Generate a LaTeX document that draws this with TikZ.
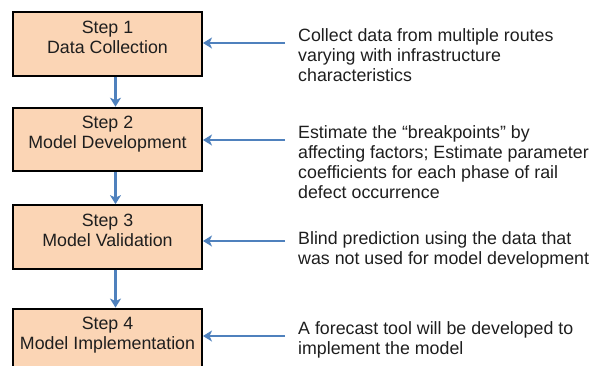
\documentclass[tikz,border=0pt]{standalone}
\usepackage{fontspec}
\setmainfont{Liberation Sans}
\usetikzlibrary{arrows.meta,positioning}
\usepackage{xcolor}
\definecolor{peach}{HTML}{FBD5B5}
\definecolor{steel}{HTML}{4F81BD}
\definecolor{ink}{HTML}{1E1E1E}
\tikzset{
  base/.style={font=\fontsize{17.8}{20}\selectfont,text=ink},
  stepbox/.style={base,align=center,draw=black,line width=2pt,fill=peach,minimum width=189pt,inner xsep=4pt,inner ysep=8.5pt,text depth=14pt},
  note/.style={base,align=left,anchor=north west,inner sep=0pt},
  flow/.style={-{Stealth[length=9pt,width=11pt,inset=2.5pt]},line width=2.6pt,draw=steel},
  every node/.style={font=\fontsize{17.8}{20}\selectfont}
}

\begin{document}
\begin{tikzpicture}[x=1pt,y=-1pt]
\useasboundingbox (0,0) rectangle (594,365);
\clip (0,0) rectangle (594,365);
\node[stepbox] (step1) at (107.5,44) {Step 1\\Data Collection};
\node[stepbox,below=30pt of step1] (step2) {Step 2\\Model Development};
\node[stepbox,below=32pt of step2] (step3) {Step 3\\Model Validation};
\node[stepbox,below=38pt of step3] (step4) {Step 4\\Model Implementation};

\coordinate (in1) at (285,43);
\coordinate (in2) at (285,140);
\coordinate (in3) at (285,241);
\coordinate (in4) at (285,336);

\node[note] (note1) at (298,28.5) {Collect data from multiple routes\\varying with infrastructure\\characteristics};
\node[note] (note2) at (298,125.5) {Estimate the “breakpoints” by\\affecting factors; Estimate parameter\\coefficients for each phase of rail\\defect occurrence};
\node[note] (note3) at (298,231.5) {Blind prediction using the data that\\was not used for model development};
\node[note] (note4) at (298,321.5) {A forecast tool will be developed to\\implement the model};

\draw[flow] ([xshift=8pt]step1.south) -- ([xshift=8pt]step2.north);
\draw[flow] ([xshift=8pt]step2.south) -- ([xshift=8pt]step3.north);
\draw[flow] ([xshift=8pt]step3.south) -- ([xshift=8pt]step4.north);
\draw[flow] (in1) -- (in1 -| step1.east);
\draw[flow] (in2) -- (in2 -| step2.east);
\draw[flow] (in3) -- (in3 -| step3.east);
\draw[flow] (in4) -- (in4 -| step4.east);
\end{tikzpicture}
\end{document}
